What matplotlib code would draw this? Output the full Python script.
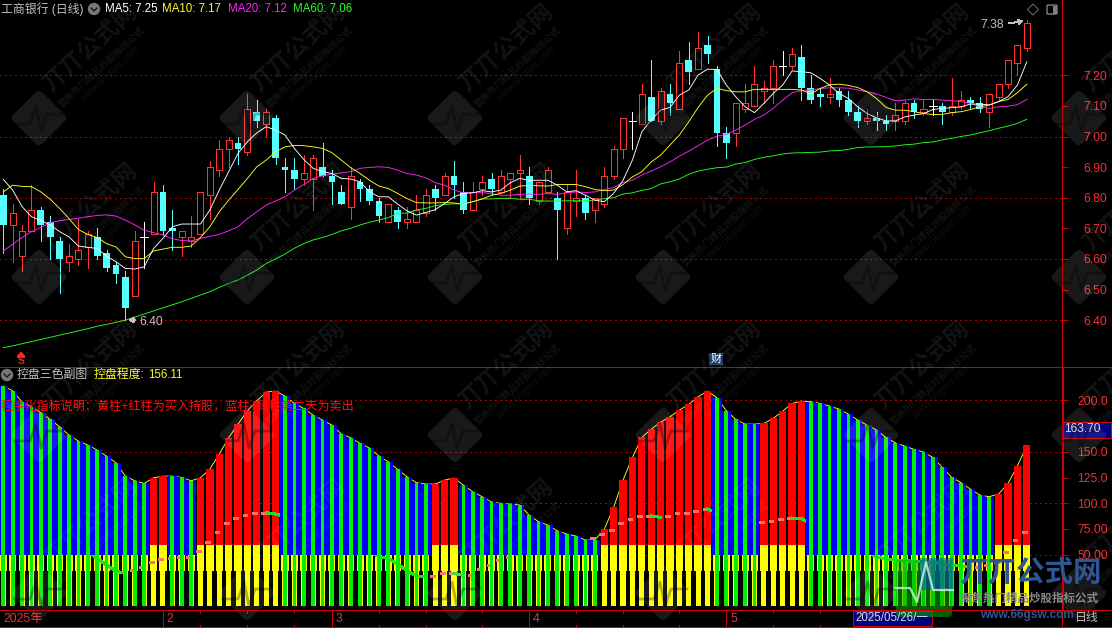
import matplotlib
matplotlib.use("Agg")
import matplotlib.pyplot as plt
from matplotlib.patches import Circle, FancyBboxPatch, Polygon, Rectangle
from matplotlib.transforms import Affine2D

plt.rcParams["font.family"] = ["Liberation Sans", "Noto Sans CJK SC", "DejaVu Sans"]
plt.rcParams["lines.antialiased"] = False
plt.rcParams["patch.antialiased"] = False

W, H = 1112, 628

# 日线 K线
opens = [6.81, 6.71, 6.61, 6.69, 6.76, 6.72, 6.66, 6.59, 6.60, 6.64,
         6.67, 6.62, 6.58, 6.54, 6.48, 6.67, 6.68, 6.82, 6.70, 6.67,
         6.66, 6.68, 6.81, 6.89, 6.96, 6.98, 6.95, 7.08, 7.04, 7.06,
         6.90, 6.89, 6.86, 6.86, 6.90, 6.87, 6.82, 6.77, 6.85, 6.83,
         6.79, 6.72, 6.76, 6.72, 6.72, 6.75, 6.83, 6.81, 6.87, 6.82,
         6.76, 6.83, 6.86, 6.82, 6.86, 6.88, 6.87, 6.79, 6.82, 6.80,
         6.70, 6.79, 6.80, 6.76, 6.78, 6.87, 6.96, 7.05, 7.04, 7.13,
         7.05, 7.14, 7.09, 7.25, 7.22, 7.30, 7.22, 7.01, 7.01, 7.09,
         7.10, 7.15, 7.16, 7.23, 7.23, 7.26, 7.16, 7.14, 7.13, 7.15,
         7.12, 7.08, 7.05, 7.06, 7.05, 7.05, 7.05, 7.11, 7.08, 7.10,
         7.10, 7.08, 7.10, 7.12, 7.11, 7.08, 7.13, 7.17, 7.24, 7.29]
highs = [6.83, 6.78, 6.71, 6.84, 6.77, 6.74, 6.67, 6.65, 6.73, 6.69,
         6.70, 6.63, 6.59, 6.56, 6.69, 6.72, 6.85, 6.84, 6.76, 6.69,
         6.74, 6.82, 6.92, 6.99, 7.00, 7.00, 7.14, 7.12, 7.09, 7.07,
         6.93, 6.93, 6.94, 6.94, 6.98, 6.89, 6.84, 6.90, 6.86, 6.84,
         6.80, 6.78, 6.77, 6.77, 6.81, 6.83, 6.84, 6.88, 6.92, 6.85,
         6.85, 6.87, 6.88, 6.89, 6.88, 6.94, 6.90, 6.85, 6.90, 6.82,
         6.84, 6.89, 6.81, 6.80, 6.90, 6.97, 7.06, 7.08, 7.17, 7.25,
         7.16, 7.17, 7.28, 7.31, 7.34, 7.33, 7.23, 7.03, 7.11, 7.17,
         7.23, 7.18, 7.25, 7.28, 7.29, 7.30, 7.20, 7.16, 7.19, 7.16,
         7.15, 7.10, 7.09, 7.08, 7.07, 7.11, 7.12, 7.12, 7.12, 7.12,
         7.11, 7.19, 7.15, 7.13, 7.13, 7.14, 7.17, 7.25, 7.30, 7.38]
lows = [6.62, 6.59, 6.56, 6.69, 6.66, 6.60, 6.49, 6.56, 6.58, 6.57,
        6.60, 6.56, 6.52, 6.40, 6.48, 6.57, 6.68, 6.68, 6.63, 6.61,
        6.64, 6.68, 6.73, 6.87, 6.90, 6.91, 6.94, 7.03, 7.00, 6.91,
        6.82, 6.83, 6.84, 6.76, 6.87, 6.78, 6.78, 6.73, 6.79, 6.78,
        6.72, 6.72, 6.70, 6.70, 6.72, 6.74, 6.76, 6.81, 6.80, 6.75,
        6.76, 6.81, 6.81, 6.82, 6.80, 6.80, 6.78, 6.78, 6.82, 6.60,
        6.68, 6.74, 6.73, 6.72, 6.77, 6.86, 6.93, 6.96, 7.04, 7.05,
        7.04, 7.07, 7.09, 7.17, 7.22, 7.24, 6.97, 6.93, 6.97, 7.08,
        7.10, 7.11, 7.11, 7.20, 7.22, 7.12, 7.11, 7.10, 7.11, 7.10,
        7.07, 7.03, 7.04, 7.02, 7.02, 7.02, 7.04, 7.06, 7.07, 7.07,
        7.04, 7.07, 7.09, 7.09, 7.08, 7.03, 7.12, 7.16, 7.20, 7.28]
closes = [6.71, 6.75, 6.69, 6.76, 6.71, 6.67, 6.60, 6.61, 6.63, 6.68,
          6.61, 6.57, 6.55, 6.44, 6.66, 6.67, 6.82, 6.69, 6.69, 6.69,
          6.67, 6.82, 6.90, 6.96, 6.99, 6.96, 7.09, 7.05, 7.08, 6.93,
          6.89, 6.86, 6.88, 6.93, 6.87, 6.85, 6.78, 6.87, 6.83, 6.79,
          6.74, 6.78, 6.72, 6.73, 6.76, 6.81, 6.80, 6.87, 6.84, 6.76,
          6.82, 6.85, 6.83, 6.87, 6.88, 6.89, 6.80, 6.85, 6.89, 6.76,
          6.82, 6.80, 6.75, 6.80, 6.87, 6.96, 7.06, 7.05, 7.14, 7.05,
          7.15, 7.11, 7.24, 7.21, 7.29, 7.27, 7.01, 6.98, 7.11, 7.11,
          7.17, 7.16, 7.23, 7.23, 7.27, 7.16, 7.12, 7.13, 7.14, 7.12,
          7.08, 7.05, 7.06, 7.05, 7.04, 7.07, 7.11, 7.08, 7.09, 7.10,
          7.08, 7.10, 7.12, 7.11, 7.09, 7.14, 7.17, 7.25, 7.30, 7.37]

ma5 = [6.860, 6.825, 6.771, 6.738, 6.725, 6.711, 6.689, 6.672, 6.642, 6.638,
       6.634, 6.609, 6.591, 6.569, 6.567, 6.574, 6.634, 6.667, 6.705, 6.714,
       6.714, 6.714, 6.760, 6.825, 6.885, 6.945, 6.983, 7.012, 7.032, 7.021,
       7.005, 6.961, 6.925, 6.896, 6.885, 6.879, 6.863, 6.861, 6.852, 6.819,
       6.803, 6.803, 6.779, 6.757, 6.743, 6.752, 6.761, 6.781, 6.803, 6.814,
       6.816, 6.823, 6.819, 6.825, 6.849, 6.863, 6.857, 6.857, 6.857, 6.841,
       6.819, 6.823, 6.808, 6.792, 6.787, 6.814, 6.857, 6.923, 7.015, 7.054,
       7.086, 7.095, 7.135, 7.152, 7.201, 7.220, 7.219, 7.168, 7.130, 7.097,
       7.078, 7.108, 7.141, 7.168, 7.214, 7.212, 7.208, 7.190, 7.168, 7.141,
       7.124, 7.097, 7.075, 7.061, 7.051, 7.051, 7.064, 7.070, 7.075, 7.088,
       7.092, 7.094, 7.097, 7.106, 7.106, 7.103, 7.114, 7.130, 7.168, 7.244]
ma10 = [6.819, 6.841, 6.837, 6.836, 6.819, 6.795, 6.765, 6.732, 6.696, 6.680,
        6.670, 6.650, 6.639, 6.607, 6.601, 6.601, 6.626, 6.632, 6.638, 6.638,
        6.642, 6.670, 6.705, 6.754, 6.792, 6.827, 6.863, 6.901, 6.923, 6.950,
        6.966, 6.971, 6.970, 6.966, 6.961, 6.947, 6.923, 6.898, 6.879, 6.857,
        6.838, 6.830, 6.814, 6.797, 6.784, 6.783, 6.783, 6.784, 6.783, 6.779,
        6.787, 6.796, 6.808, 6.814, 6.825, 6.838, 6.840, 6.839, 6.838, 6.843,
        6.843, 6.843, 6.836, 6.827, 6.823, 6.825, 6.843, 6.868, 6.885, 6.917,
        6.939, 6.972, 7.005, 7.048, 7.095, 7.135, 7.157, 7.150, 7.146, 7.146,
        7.154, 7.154, 7.154, 7.154, 7.154, 7.152, 7.139, 7.157, 7.169, 7.171,
        7.167, 7.160, 7.146, 7.124, 7.095, 7.086, 7.086, 7.081, 7.075, 7.072,
        7.072, 7.078, 7.081, 7.088, 7.097, 7.103, 7.114, 7.121, 7.143, 7.171]
ma20 = [6.626, 6.648, 6.670, 6.689, 6.703, 6.718, 6.725, 6.729, 6.733, 6.738,
        6.742, 6.744, 6.740, 6.727, 6.711, 6.694, 6.686, 6.678, 6.666, 6.660,
        6.659, 6.667, 6.674, 6.680, 6.692, 6.705, 6.732, 6.754, 6.776, 6.789,
        6.803, 6.825, 6.843, 6.863, 6.872, 6.877, 6.881, 6.885, 6.896, 6.899,
        6.901, 6.899, 6.890, 6.879, 6.874, 6.865, 6.849, 6.841, 6.825, 6.816,
        6.817, 6.816, 6.814, 6.808, 6.808, 6.811, 6.812, 6.811, 6.814, 6.811,
        6.816, 6.819, 6.817, 6.819, 6.827, 6.833, 6.850, 6.857, 6.874, 6.887,
        6.901, 6.917, 6.936, 6.952, 6.970, 6.988, 7.001, 7.007, 7.021, 7.037,
        7.056, 7.070, 7.092, 7.119, 7.143, 7.150, 7.152, 7.157, 7.159, 7.159,
        7.158, 7.152, 7.146, 7.139, 7.128, 7.117, 7.119, 7.123, 7.121, 7.121,
        7.119, 7.117, 7.114, 7.108, 7.097, 7.092, 7.097, 7.099, 7.104, 7.121]
ma60 = [6.310, 6.316, 6.323, 6.330, 6.337, 6.344, 6.351, 6.358, 6.365, 6.372,
        6.380, 6.386, 6.393, 6.400, 6.410, 6.420, 6.430, 6.440, 6.450, 6.460,
        6.471, 6.482, 6.493, 6.507, 6.520, 6.531, 6.547, 6.564, 6.585, 6.600,
        6.616, 6.635, 6.650, 6.662, 6.670, 6.680, 6.692, 6.700, 6.711, 6.720,
        6.727, 6.735, 6.749, 6.750, 6.760, 6.765, 6.774, 6.778, 6.780, 6.780,
        6.787, 6.796, 6.796, 6.798, 6.798, 6.795, 6.795, 6.790, 6.789, 6.789,
        6.790, 6.790, 6.790, 6.792, 6.797, 6.800, 6.812, 6.816, 6.824, 6.830,
        6.845, 6.852, 6.861, 6.877, 6.887, 6.893, 6.898, 6.900, 6.910, 6.915,
        6.925, 6.932, 6.937, 6.943, 6.946, 6.947, 6.948, 6.949, 6.953, 6.954,
        6.958, 6.964, 6.966, 6.966, 6.967, 6.969, 6.973, 6.975, 6.980, 6.982,
        6.989, 6.994, 7.000, 7.005, 7.012, 7.019, 7.027, 7.034, 7.043, 7.056]

# 副图: 控盘程度
control = [213.9, 209.4, 198.4, 193.8, 188.0, 181.5, 174.4, 166.3, 160.5, 156.6,
           151.7, 145.9, 139.4, 126.4, 121.9, 119.3, 124.8, 126.4, 126.4, 125.2,
           121.9, 124.8, 133.3, 147.8, 163.7, 177.0, 190.0, 199.7, 208.1, 209.1,
           204.2, 197.1, 192.2, 185.7, 180.9, 176.0, 167.3, 163.7, 158.2, 153.7,
           145.9, 140.4, 132.9, 125.8, 120.0, 118.7, 118.7, 122.6, 124.5, 117.7,
           111.2, 106.4, 101.2, 99.9, 99.2, 98.3, 88.5, 82.0, 78.8, 73.3,
           70.1, 68.1, 64.2, 64.2, 74.6, 96.0, 122.6, 144.6, 164.0, 172.1,
           178.9, 184.1, 190.6, 196.1, 203.6, 209.1, 202.6, 190.0, 181.5, 177.0,
           177.0, 177.6, 182.5, 189.6, 197.1, 199.3, 198.7, 197.1, 194.5, 191.6,
           186.7, 180.9, 176.0, 171.2, 164.0, 158.8, 155.6, 152.4, 149.8, 144.6,
           134.9, 125.2, 120.0, 113.8, 108.0, 106.4, 109.0, 119.3, 136.2, 156.3]
force = [88.5, 85.3, 83.0, 79.8, 77.2, 73.3, 67.5, 62.6, 57.8, 52.9,
         46.4, 39.9, 34.1, 31.8, 35.1, 38.3, 43.2, 45.4, 46.4, 47.4,
         48.0, 53.9, 62.6, 72.4, 80.4, 85.3, 88.5, 90.8, 90.8, 89.5,
         86.9, 83.7, 82.1, 80.4, 78.8, 75.6, 70.7, 67.5, 61.6, 52.9,
         48.0, 46.4, 40.9, 34.4, 29.2, 28.6, 29.2, 31.8, 31.8, 29.9,
         30.2, 35.7, 39.9, 44.8, 48.0, 50.6, 52.9, 55.5, 59.4, 61.6,
         61.6, 61.6, 61.6, 65.9, 69.7, 74.0, 80.4, 84.3, 87.6, 87.6,
         86.3, 87.6, 90.2, 90.8, 92.8, 94.4, 91.1, 84.7, 82.1, 81.1,
         81.1, 81.7, 82.4, 84.3, 85.6, 85.0, 80.4, 77.2, 74.0, 69.1,
         64.2, 57.8, 52.9, 48.0, 45.8, 44.8, 44.2, 43.5, 43.2, 43.2,
         40.9, 39.6, 39.0, 38.3, 38.3, 39.9, 43.2, 52.9, 64.2, 72.4]
# 买入持股的日子 (红柱)
buy_days = [16, 17] + list(range(21, 30)) + [46, 47, 48] + list(range(64, 76)) \
    + list(range(81, 86)) + [106, 107, 108, 109]

price_ticks = [6.40, 6.50, 6.60, 6.70, 6.80, 6.90, 7.00, 7.10, 7.20]
price_grid = [6.40, 6.60, 6.80, 7.00, 7.20]
control_ticks = [50, 75, 100, 125, 150, 200]
control_labels = ["50.00", "75.00", "100.0", "125.0", "150.0", "200.0"]
control_grid = [50, 100, 150, 200]
month_starts = [17, 35, 56, 77]
month_labels = ["2", "3", "4", "5"]
week_marks = [21, 26, 31, 40, 45, 51, 61, 66, 72, 82, 87]

RED = "#ff3232"
CYAN = "#54ffff"
FRAME = "#d00000"
GRID = "#a80000"
AXIS_TEXT = "#f03030"
GRAY_TEXT = "#c0c0c0"
DOTS = (0, (1.6, 4.8))
MA_LW = 0.65


def add_px_axes(fig, x0, y0, x1, y1):
    ax = fig.add_axes([x0 / W, 1 - y1 / H, (x1 - x0) / W, (y1 - y0) / H])
    ax.set_facecolor("black")
    for s in ax.spines.values():
        s.set_visible(False)
    return ax


def draw_candles(ax, x):
    for i in x:
        o, h, l, c = opens[i], highs[i], lows[i], closes[i]
        if o == c:
            color = "white"
        elif c > o:
            color = RED
        else:
            color = CYAN
        ax.vlines(i, l, h, color=color, lw=0.6, zorder=2)
        if o == c:
            ax.hlines(o, i - 0.4, i + 0.4, color=color, lw=0.6, zorder=3)
        elif c > o:
            ax.bar(i, c - o, bottom=o, width=0.64, facecolor="black",
                   edgecolor=RED, linewidth=0.6, zorder=3)
        else:
            ax.bar(i, o - c, bottom=c, width=0.72, facecolor=CYAN,
                   edgecolor="none", linewidth=0, zorder=3)


def draw_price_panel(ax, x):
    ax.set_xlim(-0.351, 112.75)
    ax.set_ylim(6.2485, 7.446)
    for v in price_grid:
        ax.axhline(v, color=GRID, lw=0.6, ls=DOTS, zorder=1)
    draw_candles(ax, x)
    # 反走样细线, 非反走样在 Agg 里会变成 2px
    ax.plot(x, ma60, color="#22ff22", lw=MA_LW, antialiased=True, zorder=4)
    ax.plot(x, ma20, color="#ff22ff", lw=MA_LW, antialiased=True, zorder=5)
    ax.plot(x, ma10, color="#ffff22", lw=MA_LW, antialiased=True, zorder=6)
    ax.plot(x, ma5, color="white", lw=MA_LW, antialiased=True, zorder=7)
    ax.set_xticks([])
    ax.yaxis.tick_right()
    ax.set_yticks(price_ticks)
    ax.set_yticklabels([f"{v:.2f}" for v in price_ticks])
    ax.tick_params(axis="y", colors=AXIS_TEXT, length=4.3, width=0.7,
                   pad=11, labelsize=8.8)
    ax.tick_params(axis="y", color=FRAME)


def draw_control_panel(ax, x):
    ax.set_xlim(-0.351, 112.75)
    ax.set_ylim(-3.76, 233.0)
    for v in control_grid:
        ax.axhline(v, color=GRID, lw=0.6, ls=DOTS, zorder=1)
    ax.plot(x, control, color="#ffff22", lw=MA_LW, antialiased=True, zorder=1.5)

    buy = [i for i in x if i in buy_days]
    sell = [i for i in x if i not in buy_days]
    buy_top = [control[i] for i in buy]
    sell_top = [control[i] for i in sell]

    ax.bar(buy, [t - 59.4 for t in buy_top], bottom=59.4, width=0.78,
           color="#ff0000", linewidth=0, zorder=2)
    ax.bar(buy, 59.4 - 34.4, bottom=34.4, width=0.78, color="#ffff00",
           linewidth=0, zorder=2)
    ax.bar(sell, 50 - 34.4, bottom=34.4, width=0.75, color="#ffff00",
           linewidth=0, zorder=2)
    ax.bar(x, 34.4, bottom=0, width=0.54, color="#ffff00", linewidth=0, zorder=2)

    # 主力线: 下降是绿色粗线, 上升只露出柱子左缘的粉色短段
    for i in x[:-1]:
        if force[i + 1] < force[i]:
            ax.plot([i, i + 1], [force[i], force[i + 1]], color="#22e022",
                    lw=1.5, zorder=3)
        else:
            ax.plot([i + 0.6, i + 0.9], [force[i + 1], force[i + 1]], color="#ff7070",
                    lw=1.8, zorder=3)

    ax.bar(sell, [t - 50 for t in sell_top], bottom=50, width=1.0,
           color="#0000ff", linewidth=0, zorder=4)
    ax.bar(sell, sell_top, bottom=0, width=0.4, color="#00ee00",
           linewidth=0, zorder=5)

    ax.set_xticks([])
    ax.yaxis.tick_right()
    ax.set_yticks(control_ticks)
    ax.set_yticklabels(control_labels)
    ax.tick_params(axis="y", colors=AXIS_TEXT, length=4.3, width=0.7,
                   pad=6.5, labelsize=8.8)
    ax.tick_params(axis="y", color=FRAME)


def draw_date_axis(ax):
    ax.set_xlim(-0.351, 112.75)
    ax.set_ylim(0, 1)
    ax.set_xticks([])
    ax.set_yticks([])
    ax.vlines(month_starts, 0, 1, color=FRAME, lw=0.7)
    ax.vlines(week_marks, 0.82, 1, color=FRAME, lw=0.7)
    ax.vlines(week_marks, 0, 0.1, color=FRAME, lw=0.7)
    ax.text(0.0, 0.47, "2025年", color=AXIS_TEXT, fontsize=8.8, va="center")
    for m, lab in zip(month_starts, month_labels):
        ax.text(m + 0.4, 0.47, lab, color=AXIS_TEXT, fontsize=8.8, va="center")


def draw_watermark(ov, cx, cy):
    diamond = FancyBboxPatch((-20.5, -20.5), 41, 41,
                             boxstyle="round,pad=0,rounding_size=5",
                             facecolor="white", edgecolor="none", alpha=0.1,
                             antialiased=True,
                             transform=Affine2D().rotate_deg(45).translate(cx, cy) + ov.transData)
    ov.add_patch(diamond)
    ov.plot([cx - 24, cx - 9, cx - 3, cx + 2, cx + 8, cx + 24],
            [cy + 6, cy + 6, cy - 11, cy + 13, cy - 4, cy - 4],
            color="black", alpha=0.3, lw=2, antialiased=True)
    ov.text(cx + 51, cy - 70, "丌丌公式网", color="white", alpha=0.08, fontsize=17,
            fontweight="bold", rotation=42, ha="center", va="center",
            rotation_mode="anchor")
    ov.text(cx + 63, cy - 51, "聚焦热门精品炒股指标公式", color="white", alpha=0.08,
            fontsize=6.8, fontweight="bold", rotation=43, ha="center", va="center",
            rotation_mode="anchor")
    ov.text(cx + 71, cy - 44, "www.66gsw.com", color="white", alpha=0.07,
            fontsize=7.5, rotation=43, ha="center", va="center",
            rotation_mode="anchor")


def draw_logo(ov):
    ov.add_patch(FancyBboxPatch((896, 560), 56, 57, boxstyle="round,pad=0,rounding_size=4",
                                facecolor="#00b000", edgecolor="none", alpha=0.55,
                                antialiased=True))
    ov.add_patch(Rectangle((920, 558), 33, 32, facecolor="#0050c8", alpha=0.55,
                           edgecolor="none", antialiased=True))
    ov.plot([895, 910, 917, 926, 933, 953], [588, 588, 602, 562, 590, 590],
            color="#d8f0f0", lw=1.6, alpha=0.8, antialiased=True)
    ov.text(1030, 573, "丌丌公式网", color="#2e5596", fontsize=20.5, fontweight="bold",
            ha="center", va="center")
    ov.text(1030, 599, "聚焦热门精品炒股指标公式", color="#8a8a8a", fontsize=8.3,
            fontweight="bold", ha="center", va="center")
    ov.text(1027, 615, "www.66gsw.com", color="#2e5596", fontsize=8.6, fontweight="bold",
            ha="center", va="center")


def draw_overlay(ov):
    ov.set_xlim(0, W)
    ov.set_ylim(H, 0)
    ov.axis("off")
    ov.patch.set_alpha(0)

    # 边框
    ov.hlines([366.5, 610, 626.5], 0, W, color=FRAME, lw=0.72)
    ov.vlines(1061.7, 0, 626, color=FRAME, lw=0.72)
    ov.vlines(1063, 366.5, 610, color=FRAME, lw=0.72)

    # 主图标题
    ov.text(1, 9.5, "工商银行 (日线)", color=GRAY_TEXT, fontsize=8.6, va="center")
    ov.add_patch(Circle((94, 9), 5.5, color="#777777", antialiased=True))
    ov.plot([91, 94, 97], [8, 11, 8], color="#111111", lw=0.9, antialiased=True)
    ov.text(105, 9.5, "MA5: 7.25", color="white", fontsize=8.3, va="center")
    ov.text(162, 9.5, "MA10: 7.17", color="#ffff22", fontsize=8.3, va="center")
    ov.text(228, 9.5, "MA20: 7.12", color="#ff22ff", fontsize=8.3, va="center")
    ov.text(293, 9.5, "MA60: 7.06", color="#22ff22", fontsize=8.3, va="center")

    # 右上角小图标
    ov.add_patch(Polygon([(1033, 4), (1038.5, 9.5), (1033, 15), (1027.5, 9.5)], fill=False,
                         edgecolor="#707070", lw=0.7, antialiased=True))
    ov.add_patch(FancyBboxPatch((1047, 5), 10, 9, boxstyle="round,pad=0,rounding_size=1",
                                facecolor="black", edgecolor="#808080", lw=1.0,
                                antialiased=True))
    ov.add_patch(Rectangle((1053, 5.5), 3.5, 8, facecolor="#808080", edgecolor="none"))

    # 最高最低价标注
    ov.text(980, 25.5, "7.38", color=GRAY_TEXT, fontsize=8.8, va="center")
    ov.annotate("", xy=(1026, 20.5), xytext=(1006, 24),
                arrowprops=dict(arrowstyle="->", color=GRAY_TEXT, lw=0.7, mutation_scale=7))
    ov.text(139, 322, "6.40", color=GRAY_TEXT, fontsize=8.8, va="center")
    ov.annotate("", xy=(126, 320), xytext=(138, 320),
                arrowprops=dict(arrowstyle="->", color=GRAY_TEXT, lw=0.7, mutation_scale=7))

    # S 标记和财
    ov.text(21, 361.5, "S", color="#ff2020", fontsize=7.5, fontweight="bold",
            ha="center", va="center")
    ov.add_patch(Polygon([(21, 353), (24, 357), (18, 357)], color="#ff2020"))
    ov.text(716, 359, "财", color="white", fontsize=8, ha="center", va="center",
            bbox=dict(facecolor="#1a3a6a", edgecolor="none", pad=1))

    # 副图标题
    ov.add_patch(Circle((7, 375), 5.5, color="#777777", antialiased=True))
    ov.plot([4, 7, 10], [374, 377, 374], color="#111111", lw=0.9, antialiased=True)
    ov.text(17, 375, "控盘三色副图", color=GRAY_TEXT, fontsize=8.6, va="center")
    ov.text(94, 375, "控盘程度:", color="#ffff22", fontsize=8.6, va="center")
    ov.text(148, 375, "156.11", color="#ffff22", fontsize=8.3, va="center")
    ov.text(1, 407, "程序化指标说明：黄柱+红柱为买入持股，蓝柱+绿柱第二天为卖出",
            color="#ff1010", fontsize=8.7, va="center")

    # 当前值和日期框
    ov.add_patch(Rectangle((1063, 422), 48, 15.5, facecolor="#000080", edgecolor=FRAME, lw=0.7))
    ov.text(1064, 429.5, "163.70", color="#d8d8d8", fontsize=8.6, va="center")
    ov.add_patch(Rectangle((853, 610.5), 79, 15.5, facecolor="#000080", edgecolor=FRAME, lw=0.7))
    ov.text(855, 618, "2025/05/26/一", color="#d8d8d8", fontsize=8.3, va="center")
    ov.text(1075, 618, "日线", color=GRAY_TEXT, fontsize=8.6, va="center")

    # 水印
    for cy in [118, 277, 435, 593]:
        for cx in [39, 247, 455, 663, 871, 1079]:
            draw_watermark(ov, cx, cy)
    draw_logo(ov)


def main():
    x = list(range(len(closes)))
    fig = plt.figure(figsize=(W / 100, H / 100), dpi=100, facecolor="black")
    ax_price = add_px_axes(fig, 0, 0, 1062, 366.5)
    ax_ctrl = add_px_axes(fig, 0, 366.5, 1062, 610)
    ax_date = add_px_axes(fig, 0, 610, 1062, 626.5)
    draw_price_panel(ax_price, x)
    draw_control_panel(ax_ctrl, x)
    draw_date_axis(ax_date)
    overlay = fig.add_axes([0, 0, 1, 1], zorder=10)
    draw_overlay(overlay)
    fig.savefig("out.png", dpi=100, facecolor="black")


if __name__ == "__main__":
    main()
